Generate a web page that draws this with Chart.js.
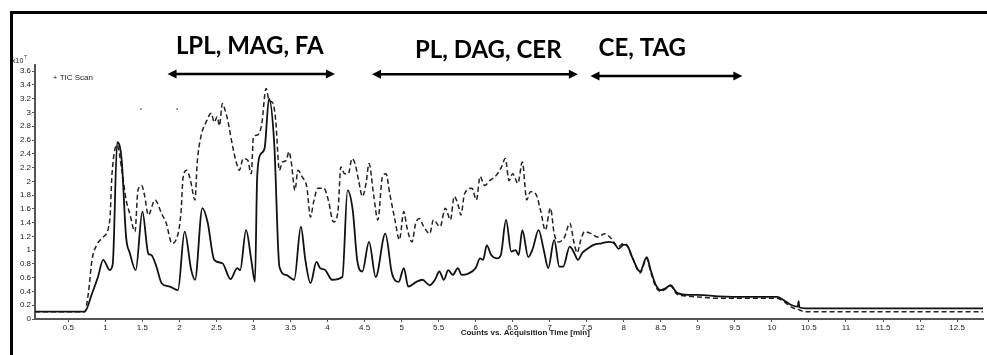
<!DOCTYPE html>
<html><head><meta charset="utf-8">
<script src="https://cdn.jsdelivr.net/npm/chart.js@4.4.1/dist/chart.umd.min.js"></script>
<style>
html,body{margin:0;padding:0;background:#fff;}
#wrap{position:relative;width:987px;height:355px;overflow:hidden;background:#fff;}
#frame{position:absolute;left:10px;top:11px;width:1000px;height:400px;border-left:3px solid #000;border-top:3px solid #000;box-sizing:border-box;}
canvas{position:absolute;left:0;top:0;}
</style></head><body>
<div id="wrap"><div id="frame"></div><canvas id="c" width="987" height="355"></canvas></div>
<script>
// ---- data (time in min, counts in units of 1e7) ----
const xTicks = [0.5,1,1.5,2,2.5,3,3.5,4,4.5,5,5.5,6,6.5,7,7.5,8,8.5,9,9.5,10,10.5,11,11.5,12,12.5];
const yTicks = [0,0.2,0.4,0.6,0.8,1,1.2,1.4,1.6,1.8,2,2.2,2.4,2.6,2.8,3,3.2,3.4,3.6];

const solidTime = [0.05,0.72,0.82,0.90,0.97,1.06,1.10,1.16,1.22,1.28,1.33,1.41,1.50,1.58,1.62,1.69,1.76,1.87,1.98,2.07,2.16,2.21,2.31,2.38,2.47,2.58,2.69,2.78,2.82,2.90,2.97,3.02,3.05,3.10,3.15,3.21,3.28,3.35,3.44,3.55,3.64,3.70,3.77,3.85,3.90,3.97,4.06,4.20,4.27,4.34,4.40,4.47,4.56,4.65,4.78,4.87,4.96,5.03,5.09,5.20,5.28,5.38,5.45,5.51,5.57,5.63,5.69,5.76,5.81,5.90,6.00,6.06,6.10,6.15,6.21,6.29,6.34,6.41,6.48,6.54,6.58,6.63,6.71,6.77,6.85,6.92,6.98,7.06,7.13,7.18,7.27,7.33,7.38,7.44,7.51,7.60,7.70,7.80,7.87,7.93,8.00,8.05,8.12,8.22,8.31,8.36,8.43,8.50,8.57,8.63,8.72,8.88,9.00,9.28,9.64,10.07,10.15,10.27,10.35,10.36,10.37,10.45,12.85];
const solidCounts = [0.106,0.106,0.37,0.61,0.86,0.71,0.80,2.57,2.31,1.19,0.96,0.71,1.56,0.95,0.93,0.76,0.52,0.47,0.42,1.27,0.71,0.57,1.61,1.41,0.86,0.81,0.58,0.74,0.71,1.29,0.86,0.54,2.07,2.40,2.48,3.20,2.55,0.76,0.64,0.57,1.34,0.86,0.52,0.83,0.74,0.71,0.57,0.61,1.87,1.58,0.86,0.69,1.12,0.61,1.24,0.66,0.54,0.74,0.47,0.54,0.57,0.49,0.57,0.69,0.57,0.71,0.64,0.74,0.64,0.66,0.74,0.88,0.86,1.07,0.93,0.88,0.93,1.44,0.98,1.00,0.93,1.29,0.90,1.02,1.29,1.00,0.74,1.15,0.76,0.76,1.05,0.96,0.86,0.96,1.02,1.08,1.10,1.12,1.10,1.02,1.08,1.06,0.88,0.69,0.90,0.72,0.50,0.42,0.45,0.49,0.38,0.35,0.35,0.33,0.32,0.32,0.28,0.20,0.18,0.26,0.17,0.155,0.155];

const dashTime = [0.05,0.72,0.77,0.82,0.88,0.97,1.06,1.09,1.16,1.22,1.28,1.33,1.40,1.44,1.49,1.53,1.58,1.67,1.76,1.82,1.90,1.95,2.02,2.05,2.10,2.15,2.21,2.24,2.29,2.36,2.43,2.47,2.51,2.54,2.58,2.62,2.65,2.72,2.76,2.81,2.86,2.92,2.97,3.00,3.05,3.11,3.17,3.21,3.26,3.30,3.35,3.39,3.44,3.48,3.51,3.56,3.60,3.66,3.72,3.77,3.81,3.87,3.95,4.01,4.08,4.14,4.18,4.23,4.28,4.33,4.37,4.42,4.47,4.52,4.56,4.62,4.68,4.74,4.79,4.84,4.91,4.97,5.03,5.07,5.14,5.19,5.24,5.29,5.38,5.43,5.52,5.59,5.66,5.71,5.77,5.80,5.85,5.95,6.01,6.06,6.12,6.19,6.28,6.35,6.40,6.45,6.50,6.57,6.63,6.69,6.74,6.81,6.88,6.94,7.01,7.06,7.12,7.20,7.27,7.33,7.37,7.42,7.47,7.56,7.65,7.74,7.83,7.92,8.00,8.05,8.12,8.22,8.31,8.36,8.43,8.50,8.57,8.63,8.72,8.88,9.00,9.28,9.64,10.07,10.15,10.27,10.35,10.45,12.85];
const dashCounts = [0.106,0.106,0.37,0.86,1.07,1.19,1.44,2.11,2.53,2.18,1.73,1.53,1.27,1.87,1.94,1.79,1.51,1.73,1.53,1.40,1.10,1.14,1.53,2.06,2.16,2.01,1.73,2.27,2.65,2.86,2.99,2.86,2.94,2.81,3.13,3.02,2.90,2.50,2.31,2.16,2.33,2.31,2.11,2.65,2.67,2.82,3.35,3.18,3.14,2.89,2.16,2.28,2.30,2.43,2.28,1.87,2.16,2.06,1.92,1.48,1.69,1.90,1.90,1.73,1.41,1.56,2.21,2.11,2.11,2.33,2.26,2.01,1.78,1.97,2.26,1.82,1.44,2.06,2.11,1.82,1.44,1.15,1.56,1.34,1.12,1.39,1.46,1.36,1.24,1.44,1.34,1.61,1.44,1.78,1.63,1.51,1.82,1.90,1.73,2.07,1.94,2.01,2.09,2.21,2.33,2.01,2.11,1.97,2.28,1.73,1.85,1.82,1.56,1.29,1.61,1.24,1.12,1.19,1.39,1.10,0.96,1.15,1.27,1.24,1.19,1.24,1.17,1.05,1.10,1.06,0.88,0.67,0.88,0.70,0.47,0.40,0.44,0.48,0.36,0.33,0.32,0.30,0.30,0.30,0.26,0.17,0.14,0.106,0.106];

const specksTime = [1.48,1.97];
const specksCounts = [3.05,3.05];

// ---- annotations (retention-time ranges) ----
const groupNames = ['LPL, MAG, FA','PL, DAG, CER','CE, TAG'];
const groupStart = [1.84,4.60,7.55];
const groupEnd   = [4.10,7.38,9.60];
const groupArrowLevel = [3.56,3.555,3.53];
const groupLabelX = [2.95,6.17,8.25];
const groupLabelLevel = [3.96,3.90,3.93];

const axisTitle = 'Counts vs. Acquisition Time [min]';
const seriesTitle = '+ TIC Scan';

const pts = (t,v)=>t.map((x,i)=>({x:x,y:v[i]}));

const annoPlugin = {
  id:'anno',
  afterDraw(chart){
    const {ctx, scales:{x,y}, chartArea} = chart;
    ctx.save();
    ctx.fillStyle='#000'; ctx.strokeStyle='#000';
    for(let i=0;i<groupNames.length;i++){
      const x1=x.getPixelForValue(groupStart[i]), x2=x.getPixelForValue(groupEnd[i]);
      const yy=y.getPixelForValue(groupArrowLevel[i]);
      ctx.lineWidth=2.6;
      ctx.beginPath(); ctx.moveTo(x1+5,yy); ctx.lineTo(x2-5,yy); ctx.stroke();
      ctx.beginPath(); ctx.moveTo(x1,yy); ctx.lineTo(x1+9,yy-4.5); ctx.lineTo(x1+9,yy+4.5); ctx.closePath(); ctx.fill();
      ctx.beginPath(); ctx.moveTo(x2,yy); ctx.lineTo(x2-9,yy-4.5); ctx.lineTo(x2-9,yy+4.5); ctx.closePath(); ctx.fill();
      ctx.font='bold 24px Lato';
      ctx.textAlign='center'; ctx.textBaseline='middle';
      ctx.fillText(groupNames[i], x.getPixelForValue(groupLabelX[i]), y.getPixelForValue(groupLabelLevel[i]));
    }
    // series label
    ctx.fillStyle='#222';
    ctx.font='8px "Liberation Sans"';
    ctx.textAlign='left'; ctx.textBaseline='middle';
    ctx.fillText(seriesTitle, x.getPixelForValue(0.29), y.getPixelForValue(3.51));
    // exponent
    ctx.font='7px "Liberation Sans"';
    ctx.fillText('x10', chartArea.left-23, chartArea.top-4);
    ctx.font='5px "Liberation Sans"';
    ctx.fillText('7', chartArea.left-11, chartArea.top-7);
    // axis title
    ctx.font='bold 8px "Liberation Sans"';
    ctx.textAlign='center';
    ctx.fillText(axisTitle, x.getPixelForValue(6.67), chartArea.bottom+14);
    ctx.restore();
  }
};

new Chart(document.getElementById('c'), {
  type:'line',
  data:{datasets:[
    {data:pts(solidTime,solidCounts), borderColor:'#111', borderWidth:1.8, pointRadius:0, cubicInterpolationMode:'monotone', fill:false},
    {data:pts(dashTime,dashCounts), borderColor:'#222', borderWidth:1.5, borderDash:[5,3], pointRadius:0, cubicInterpolationMode:'monotone', fill:false},
    {type:'scatter', data:pts(specksTime,specksCounts), pointRadius:0.9, pointBackgroundColor:'#555', pointBorderWidth:0, showLine:false}
  ]},
  options:{
    responsive:false, devicePixelRatio:1, animation:false,
    layout:{padding:{top:65,left:0,right:0,bottom:0}},
    plugins:{legend:{display:false}, tooltip:{enabled:false}},
    scales:{
      x:{type:'linear', min:0.05, max:12.85,
        afterBuildTicks:s=>{s.ticks=xTicks.map(v=>({value:v}));},
        afterFit:s=>{s.height=36;},
        ticks:{autoSkip:false, maxRotation:0, font:{size:8, family:'"Liberation Sans"'}, color:'#222', padding:1,
          callback:v=>String(Math.round(v*10)/10)},
        grid:{display:true, drawOnChartArea:false, tickLength:3, color:'#555'},
        border:{display:true, color:'#555', width:2}
      },
      y:{type:'linear', min:0, max:3.69,
        afterBuildTicks:s=>{s.ticks=yTicks.map(v=>({value:v}));},
        afterFit:s=>{s.width=35;},
        ticks:{autoSkip:false, font:{size:8, family:'"Liberation Sans"'}, color:'#222', padding:1,
          callback:v=>String(Math.round(v*10)/10)},
        grid:{display:true, drawOnChartArea:false, tickLength:3, color:'#555'},
        border:{display:true, color:'#555', width:2}
      }
    }
  },
  plugins:[annoPlugin]
});
</script>
</body></html>
